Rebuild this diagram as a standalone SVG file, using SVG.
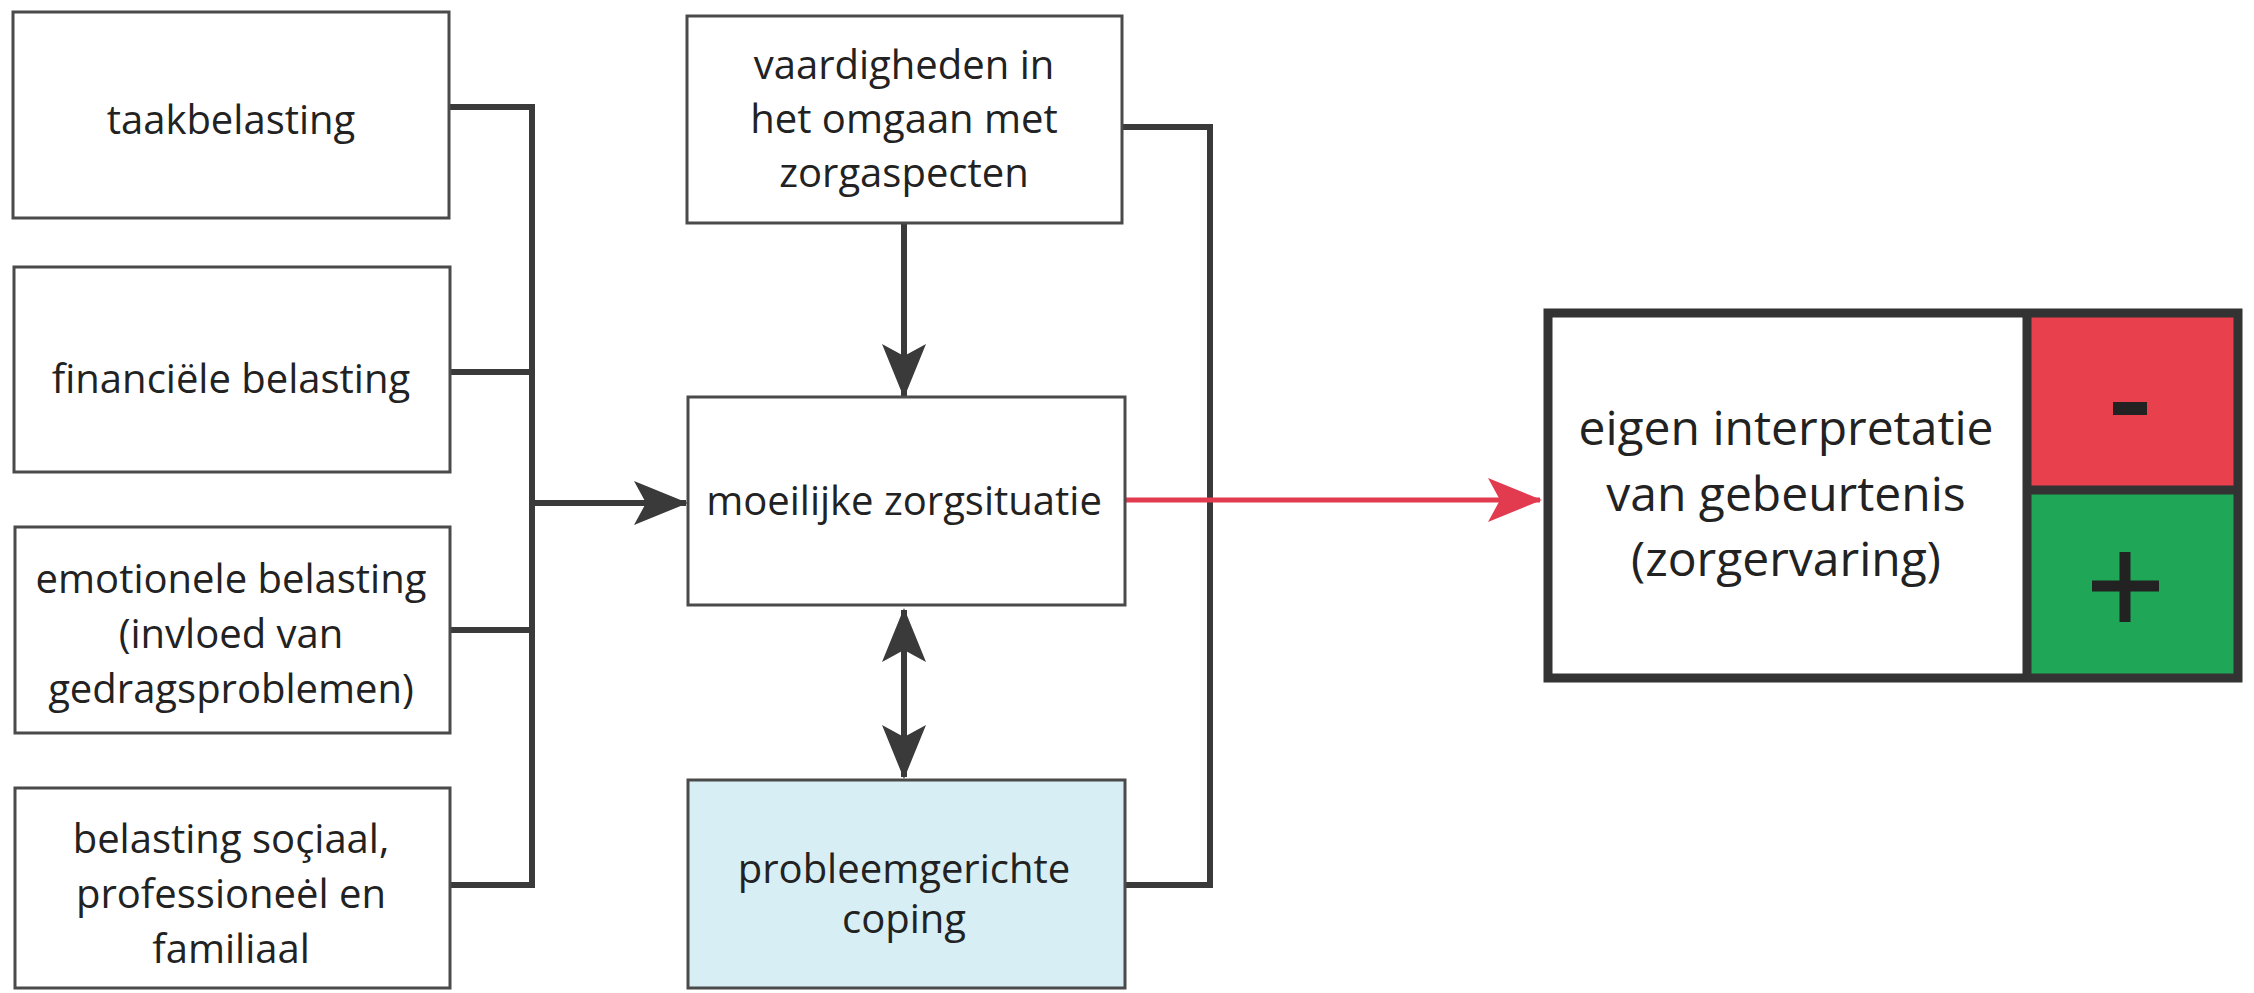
<svg xmlns="http://www.w3.org/2000/svg" width="2254" height="993" viewBox="0 0 2254 993">
<style>
.box{fill:#ffffff;stroke:#4a4a4a;stroke-width:3}
.t{font-family:"Open Sans","Liberation Sans",sans-serif;font-size:40px;fill:#222;text-anchor:middle}
.tb{font-family:"Open Sans","Liberation Sans",sans-serif;font-size:48px;fill:#222;text-anchor:middle}
.ln{fill:none;stroke:#3a3a3a;stroke-width:6}
.red{fill:none;stroke:#e23a4e;stroke-width:5}
</style>
<defs>
<marker id="ah" markerUnits="userSpaceOnUse" markerWidth="56" markerHeight="48" refX="52" refY="22" orient="auto-start-reverse">
<path d="M0,0 L54,22 L0,44 L12,22 Z" fill="#3a3a3a"/>
</marker>
<marker id="ahr" markerUnits="userSpaceOnUse" markerWidth="56" markerHeight="48" refX="52" refY="22" orient="auto">
<path d="M0,0 L54,22 L0,44 L12,22 Z" fill="#e23a4e"/>
</marker>
</defs>
<rect width="2254" height="993" fill="#ffffff"/>
<g id="connectors">
<path class="ln" d="M450,107 H532 M450,372 H532 M450,630 H532 M450,885 H532 M532,104 V888"/>
<path class="ln" d="M532,503 H686" marker-end="url(#ah)"/>
<path class="ln" d="M904,223 V396" marker-end="url(#ah)"/>
<path class="ln" d="M904,610 V777" marker-start="url(#ah)" marker-end="url(#ah)"/>
<path class="ln" d="M1122,127 H1210 V885 H1125"/>
<path class="red" d="M1125,500 H1540" marker-end="url(#ahr)"/>
</g>
<g id="n-taak">
<rect class="box" x="13" y="12" width="436" height="206"/>
<text class="t" x="231" y="134">taakbelasting</text>
</g>
<g id="n-fin">
<rect class="box" x="14" y="267" width="436" height="205"/>
<text class="t" x="231" y="393">financiële belasting</text>
</g>
<g id="n-emo">
<rect class="box" x="15" y="527" width="435" height="206"/>
<text class="t" x="231" y="593">emotionele belasting</text>
<text class="t" x="231" y="648">(invloed van</text>
<text class="t" x="231" y="703">gedragsproblemen)</text>
</g>
<g id="n-soc">
<rect class="box" x="15" y="788" width="435" height="200"/>
<text class="t" x="231" y="853">belasting soçiaal,</text>
<text class="t" x="231" y="908">professioneėl en</text>
<text class="t" x="231" y="963">familiaal</text>
</g>
<g id="n-vaard">
<rect class="box" x="687" y="16" width="435" height="207"/>
<text class="t" x="904" y="79">vaardigheden in</text>
<text class="t" x="904" y="133">het omgaan met</text>
<text class="t" x="904" y="187">zorgaspecten</text>
</g>
<g id="n-moeilijk">
<rect class="box" x="688" y="397" width="437" height="208"/>
<text class="t" x="904" y="515">moeilijke zorgsituatie</text>
</g>
<g id="n-coping">
<rect class="box" x="688" y="780" width="437" height="208" style="fill:#d8eef5"/>
<text class="t" x="904" y="883">probleemgerichte</text>
<text class="t" x="904" y="933">coping</text>
</g>
<g id="n-interpretatie">
<rect x="2027" y="313" width="211" height="177" fill="#e8404c"/>
<rect x="2027" y="490" width="211" height="188" fill="#1fa757"/>
<rect x="1548" y="313" width="690" height="365" fill="none" stroke="#333" stroke-width="9"/>
<path d="M2027,313 V678 M2027,490 H2238" stroke="#333" stroke-width="9" fill="none"/>
<rect x="2113" y="402" width="34" height="13" fill="#222"/>
<path d="M2092,586 H2159 M2125,552 V622" stroke="#222" stroke-width="11" fill="none"/>
<text class="tb" x="1786" y="445">eigen interpretatie</text>
<text class="tb" x="1786" y="511">van gebeurtenis</text>
<text class="tb" x="1786" y="576">(zorgervaring)</text>
</g>
</svg>
